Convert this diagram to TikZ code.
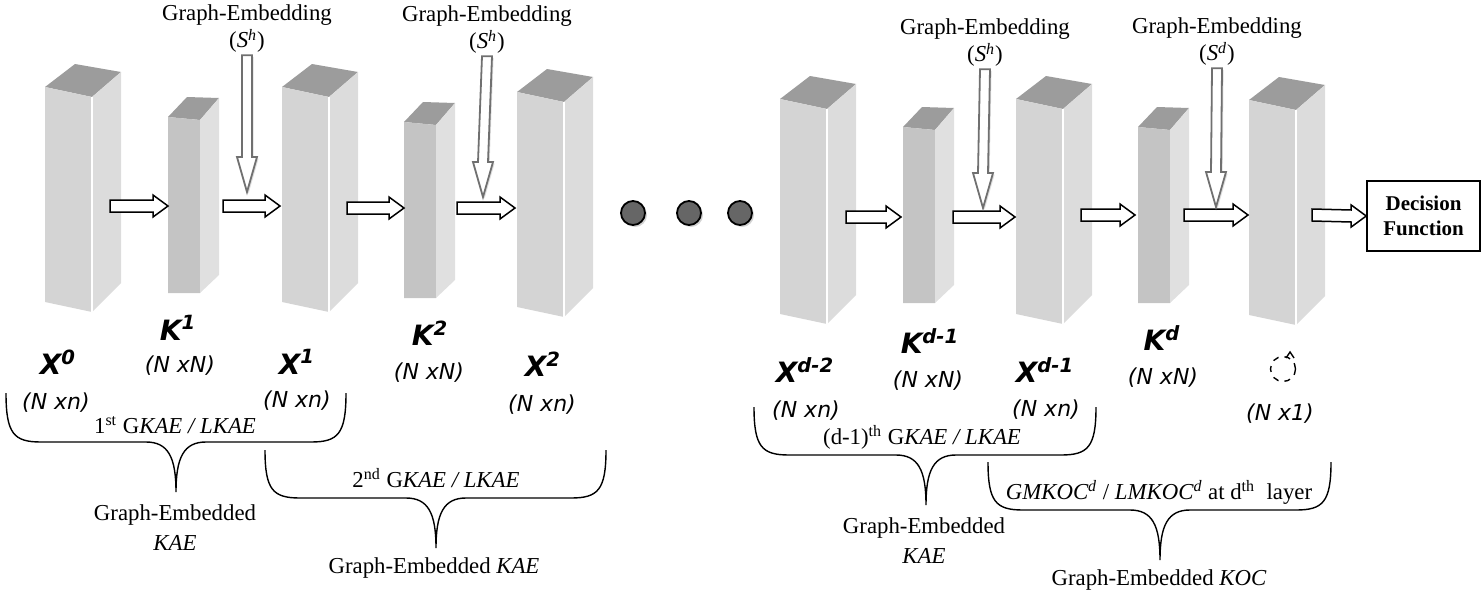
\documentclass[tikz,border=0pt]{standalone}
\usepackage{fontspec}
\setmainfont{Liberation Serif}
\setsansfont{DejaVu Sans}
\usetikzlibrary{calc,shadows}

\definecolor{xfrontc}{HTML}{D4D4D4}
\definecolor{xsidec}{HTML}{DCDCDC}
\definecolor{kfrontc}{HTML}{C4C4C4}
\definecolor{ksidec}{HTML}{E0E0E0}
\definecolor{topc}{HTML}{9C9C9C}
\definecolor{dotc}{HTML}{666666}
\definecolor{varrowc}{HTML}{707070}

\tikzset{
  topface/.style={fill=topc},
  xfront/.style={fill=xfrontc},
  xside/.style={fill=xsidec},
  kfront/.style={fill=kfrontc},
  kside/.style={fill=ksidec},
  harrowstyle/.style={draw=black,fill=white,line width=0.75pt,line join=miter},
  varrowstyle/.style={draw=varrowc,fill=white,line width=0.9pt,
    drop shadow={opacity=0.25,shadow xshift=0.8pt,shadow yshift=-0.8pt}},
  dotnode/.style={circle,draw=black,fill=dotc,line width=0.9pt,minimum size=12pt,inner sep=0pt,
    drop shadow={opacity=0.35,shadow xshift=1pt,shadow yshift=-1pt}},
  bracestyle/.style={draw=black,line width=0.7pt},
  serif/.style={font=\fontsize{11.4}{13.5}\selectfont,align=center,inner sep=1pt},
  varlabel/.style={font=\sffamily\bfseries\itshape\fontsize{14}{16}\selectfont,inner sep=0pt},
  dimlabel/.style={font=\sffamily\itshape\fontsize{11}{13}\selectfont,inner sep=0pt},
}

% tall feature block
\newcommand{\xprism}[3]{%
  \coordinate (#1) at (#2,#3);
  \fill[topface] (#1) -- ++(47,10) -- ++(29,-25) -- ++(-46,-8) -- cycle;
  \fill[xfront] (#1) -- ++(47,10) -- ++(0,215) -- ++(-47,-10) -- cycle;
  \fill[xside] ($(#1)+(47,10)$) -- ++(29,-25) -- ++(0,211) -- ++(-29,29) -- cycle;
  \draw[white,line width=0.8pt] ($(#1)+(47,10)$) -- ++(0,215);
}
% kernel block
\newcommand{\kprism}[3]{%
  \coordinate (#1) at (#2,#3);
  \fill[topface] (#1) -- ++(32,3) -- ++(19,-22) -- ++(-32,-1) -- cycle;
  \fill[kfront] (#1) -- ++(32,3) -- ++(0,173) -- ++(-32,0) -- cycle;
  \fill[kside] ($(#1)+(32,3)$) -- ++(19,-22) -- ++(0,177) -- ++(-19,18) -- cycle;
}
% block arrow, left to right
\newcommand{\harrow}[2]{%
  \draw[harrowstyle] ($(#1)+(0,-6)$) -- ($(#2)+(-15,-6)$) -- ($(#2)+(-15,-11)$) -- (#2)
    -- ($(#2)+(-15,11)$) -- ($(#2)+(-15,6)$) -- ($(#1)+(0,6)$) -- cycle;
}
% block arrow, top to bottom
\newcommand{\varrow}[2]{%
  \draw[varrowstyle] ($(#1)+(-5,0)$) -- ($(#2)+(-5,-35)$) -- ($(#2)+(-10,-35)$) -- (#2)
    -- ($(#2)+(10,-35)$) -- ($(#2)+(5,-35)$) -- ($(#1)+(5,0)$) -- cycle;
}
% brace: left, right, top, bottom, tip x, tip y
\newcommand{\gbrace}[6]{%
  \draw[bracestyle] (#1,#3) .. controls (#1,#4-8) and (#1+8,#4) .. (#1+35,#4) -- (#5-30,#4)
    .. controls (#5-8,#4) and (#5,#4+15) .. (#5,#6)
    .. controls (#5,#4+15) and (#5+8,#4) .. (#5+30,#4) -- (#2-35,#4)
    .. controls (#2-8,#4) and (#2,#4-8) .. (#2,#3);
}

\begin{document}
\begin{tikzpicture}[x=0.5pt,y=-0.5pt]
\useasboundingbox (0,0) rectangle (1482,594);

% blocks
\xprism{bx0}{45}{87}
\kprism{bk1}{168}{117}
\xprism{bx1}{282}{87}
\kprism{bk2}{404}{122}
\xprism{bx2}{517}{92}
\xprism{bxd2}{780}{99}
\kprism{bkd1}{903}{127}
\xprism{bxd1}{1016}{99}
\kprism{bkd}{1138}{127}
\xprism{bxl}{1249}{100}

% dots
\node[dotnode] (dot1) at (633,213) {};
\node[dotnode] (dot2) at (689,213) {};
\node[dotnode] (dot3) at (740,213) {};

% decision
\node[draw,line width=0.8pt,minimum width=56.5pt,minimum height=35pt,inner sep=0pt,
  font=\bfseries\fontsize{10.5}{12.5}\selectfont,align=center] (dec) at (1423.5,216) {Decision\\Function};

% arrow ends
\coordinate (a1s) at (110,206); \coordinate (a1e) at (168,206);
\coordinate (a2s) at (223,206); \coordinate (a2e) at (280,206);
\coordinate (a3s) at (347,208); \coordinate (a3e) at (404,208);
\coordinate (a4s) at (457,208); \coordinate (a4e) at (515,208);
\coordinate (a5s) at (846,217); \coordinate (a5e) at (901,217);
\coordinate (a6s) at (953,217); \coordinate (a6e) at (1015,217);
\coordinate (a7s) at (1081,215); \coordinate (a7e) at (1135,215);
\coordinate (a8s) at (1184,215); \coordinate (a8e) at (1248,215);
\coordinate (a9s) at (1312,215);
\harrow{a1s}{a1e}
\harrow{a2s}{a2e}
\harrow{a3s}{a3e}
\harrow{a4s}{a4e}
\harrow{a5s}{a5e}
\harrow{a6s}{a6e}
\harrow{a7s}{a7e}
\harrow{a8s}{a8e}
\harrow{a9s}{dec.west}

% graph embedding inputs
\node[serif] (ge1) at (247,29) {Graph-Embedding\\(\textit{S}\textsuperscript{\textit{h}})};
\node[serif] (ge2) at (487,30) {Graph-Embedding\\(\textit{S}\textsuperscript{\textit{h}})};
\node[serif] (ge3) at (985,43) {Graph-Embedding\\(\textit{S}\textsuperscript{\textit{h}})};
\node[serif] (ge4) at (1217,42) {Graph-Embedding\\(\textit{S}\textsuperscript{\textit{d}})};
\coordinate (t1) at (247,192);
\coordinate (t2) at (483,197);
\coordinate (t3) at (983,208);
\coordinate (t4) at (1216,207);
\varrow{ge1.south}{t1}
\varrow{ge2.south}{t2}
\varrow{ge3.south}{t3}
\varrow{ge4.south}{t4}

% block labels
\node[varlabel] (lx0) at (58,362) {X\textsuperscript{0}};
\node[varlabel] (lk1) at (178,328) {K\textsuperscript{1}};
\node[varlabel] (lx1) at (297,362) {X\textsuperscript{1}};
\node[varlabel] (lk2) at (430,333) {K\textsuperscript{2}};
\node[varlabel] (lx2) at (543,364) {X\textsuperscript{2}};
\node[varlabel] (lxd2) at (805,370) {X\textsuperscript{d-2}};
\node[varlabel] (lkd1) at (930,341) {K\textsuperscript{d-1}};
\node[varlabel] (lxd1) at (1045,370) {X\textsuperscript{d-1}};
\node[varlabel] (lkd) at (1162,338) {K\textsuperscript{d}};
\node[draw,dashed,circle,line width=0.7pt,minimum size=12.5pt,inner sep=0pt] (yhat) at (1283,369) {};
\draw[line width=0.7pt] (1286,358) -- (1290,352) -- (1294,358);

\node[dimlabel] (dx0) at (56,403) {(N xn)};
\node[dimlabel] (dk1) at (180,366) {(N xN)};
\node[dimlabel] (dx1) at (297,401) {(N xn)};
\node[dimlabel] (dk2) at (429,373) {(N xN)};
\node[dimlabel] (dx2) at (542,405) {(N xn)};
\node[dimlabel] (dxd2) at (806,411) {(N xn)};
\node[dimlabel] (dkd1) at (928,381) {(N xN)};
\node[dimlabel] (dxd1) at (1046,410) {(N xn)};
\node[dimlabel] (dkd) at (1163,378) {(N xN)};
\node[dimlabel] (dxl) at (1280,414) {(N x1)};

% braces
\gbrace{6}{346}{393}{442}{176}{492}
\gbrace{265}{606}{450}{498}{436}{548}
\gbrace{754}{1096}{407}{455}{926}{505}
\gbrace{988}{1331}{462}{510}{1160}{560}

\node[serif] (b1) at (175,425) {1\textsuperscript{st} G\textit{KAE / LKAE}};
\node[serif] (b2) at (436,478) {2\textsuperscript{nd} G\textit{KAE / LKAE}};
\node[serif] (b3) at (922,437) {(d-1)\textsuperscript{th} G\textit{KAE / LKAE}};
\node[serif] (b4) at (1159,492) {\textit{GMKOC\textsuperscript{d}} / \textit{LMKOC\textsuperscript{d}} at d\textsuperscript{th}\ \ layer};

\node[serif,font=\fontsize{11.4}{15}\selectfont] (g1) at (175,528) {Graph-Embedded\\\textit{KAE}};
\node[serif] (g2) at (434,568) {Graph-Embedded \textit{KAE}};
\node[serif,font=\fontsize{11.4}{15}\selectfont] (g3) at (924,541) {Graph-Embedded\\\textit{KAE}};
\node[serif] (g4) at (1159,580) {Graph-Embedded \textit{KOC}};
\end{tikzpicture}
\end{document}
